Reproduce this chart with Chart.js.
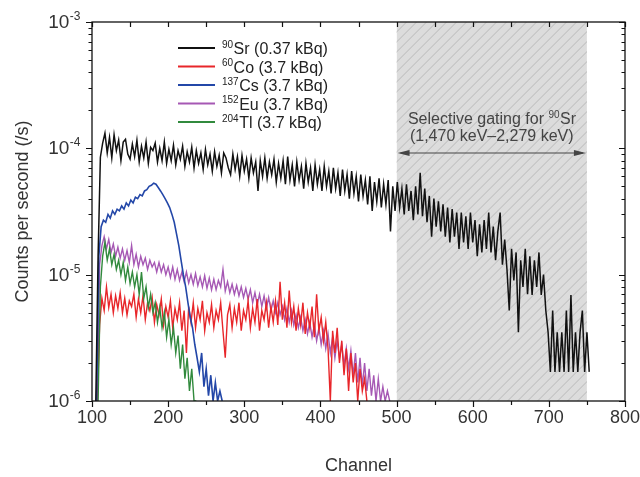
<!DOCTYPE html>
<html lang="en">
<head>
  <meta charset="UTF-8">
  <title>Sr-90 gating spectra</title>
  <script src="https://cdn.jsdelivr.net/npm/chart.js"></script>
  <style>
    body { margin: 0; background: #fff; }
    .wrap { width: 640px; height: 477px; }
  </style>
</head>
<body>
<div class="wrap"><canvas id="chartSpec" width="640" height="477"></canvas></div>
<script>
  // counts per second, in units of 1e-6 /s, one value every 3 channels
  const STEP = 3;
  const srStart = 105;
  const sr90 = [
    1, 14, 85, 110, 132, 92, 122, 84, 128, 96,
    116, 80, 112, 118, 90, 82, 108, 86, 116, 78,
    104, 84, 112, 76, 102, 96, 110, 78, 100, 80,
    112, 76, 98, 80, 106, 74, 96, 82, 104, 72,
    94, 78, 102, 70, 96, 76, 92, 68, 98, 74,
    90, 66, 94, 72, 88, 64, 92, 84, 70, 62,
    90, 68, 86, 60, 88, 66, 82, 58, 84, 64,
    78, 46, 80, 60, 84, 58, 78, 62, 82, 54,
    76, 58, 80, 52, 86, 56, 74, 50, 78, 56,
    72, 48, 76, 54, 70, 46, 74, 52, 68, 46,
    72, 50, 66, 44, 70, 48, 64, 42, 68, 46,
    62, 40, 66, 44, 60, 38, 62, 42, 56, 36,
    60, 32, 54, 38, 58, 34, 52, 36, 56, 22,
    50, 32, 54, 34, 48, 30, 52, 32, 46, 27,
    50, 30, 64, 29, 48, 26, 42, 20, 40, 24,
    38, 22, 36, 20, 34, 18, 33, 20, 31, 16,
    31, 18, 29, 16, 31, 18, 27, 14, 25, 15,
    27, 16, 31, 15, 24, 13, 22, 31, 12, 19,
    11, 5.2, 16, 9, 15, 3.5, 13, 8, 16, 7,
    14, 6.9, 13, 8, 15, 6.9, 10, 5.2, 3.5, 1.7,
    5.2, 1.7, 3.5, 1.7, 3.5, 1.7, 5.2, 1.7, 6.9, 1.7,
    3.5, 1.7, 3.5, 5.2, 1.7, 3.5, 1.7
  ];
  const coStart = 107;
  const co60 = [
    1, 4, 6.5, 5.2, 8, 5.5, 7, 5, 6.8, 5.4,
    7.2, 5, 6.5, 4.8, 6.2, 5.6, 7, 4.6, 6.4, 5,
    6.8, 4.4, 6, 5.2, 6.6, 4.2, 5.8, 4.8, 6.4, 4,
    5.6, 4.6, 6.2, 3.8, 5.4, 4.4, 6, 3.6, 5.2, 2.4,
    5.6, 4.2, 6, 3.8, 5.4, 4.4, 6.2, 3.6, 5, 4.2,
    5.8, 3.8, 5.2, 4.4, 6, 3.6, 2.2, 4.8, 5.8, 3.8,
    5.4, 4.2, 6, 3.6, 5.2, 4.4, 6.2, 3.8, 5.4, 4.2,
    6.4, 3.6, 5.2, 4.4, 6, 3.8, 5.6, 4.2, 6.2, 4,
    8.8, 4.4, 6, 3.8, 7.5, 4.2, 5.6, 3.6, 5.4, 4,
    6, 3.4, 5, 3.8, 5.6, 3.2, 7, 3.6, 4.6, 3,
    4.2, 2.6, 1, 3.6, 2.4, 3.8, 2, 3, 1.6, 2.6,
    1.2, 2.4, 1.4, 2, 1, 1.8, 1.2, 1.5, 1
  ];
  const csStart = 106;
  const cs137 = [
    1, 14, 24, 27, 26, 30, 28, 32, 30, 33,
    32, 35, 33, 37, 35, 39, 37, 41, 40, 43,
    42, 46, 47, 50, 51, 53, 52, 49, 46, 43,
    40, 37, 34, 30, 26, 21, 17, 13, 10, 8,
    6, 4.6, 3.8, 2.8, 2.2, 1.7, 2.4, 1.3, 1.8, 1.1,
    1.6, 1, 1.4, 1, 1.2, 1
  ];
  const euStart = 107;
  const eu152 = [
    1, 12, 17, 20, 16, 19, 15, 17.5, 14, 16.5,
    13.5, 16, 13, 15.5, 12.5, 17, 12, 14.5, 11.5, 14,
    12, 13.5, 11, 13, 11.5, 12.5, 10.5, 12.5, 10.5, 12,
    10, 11.5, 9.5, 11.5, 9.2, 11, 9, 10.5, 8.8, 10.5,
    8.6, 10, 8.4, 10.2, 8.2, 9.6, 8, 9.8, 7.8, 9.4,
    7.6, 9.2, 7.6, 9, 8, 11, 7.4, 8.8, 7.2, 8.4,
    7, 8.2, 6.8, 8, 6.6, 7.8, 6.4, 7.6, 6, 7.2,
    5.8, 7, 5.6, 6.8, 5.4, 6.6, 5.2, 6.2, 5, 6,
    4.8, 5.6, 4.4, 5.4, 4.2, 5.2, 4, 4.8, 3.8, 4.6,
    3.6, 4.4, 3.4, 4.2, 3.2, 4, 3, 3.8, 2.8, 3.6,
    2.6, 3.4, 2.4, 3.2, 2.2, 3, 2.2, 2.8, 1.9, 2.6,
    1.8, 2.5, 1.6, 2.4, 1.4, 2.2, 1.3, 2, 1.2, 1.8,
    1.1, 1.6, 1, 1.5, 1, 1.3, 1, 1.2, 1
  ];
  const tlStart = 108;
  const tl204 = [
    1, 8, 14, 18, 13, 16, 12, 14.5, 11, 13,
    10, 12.5, 9, 11.5, 8.5, 10.5, 8, 10, 7, 10.5,
    6.5, 8, 5.5, 7, 5, 6, 4.2, 5.5, 3.8, 5,
    3.2, 4.4, 2.8, 3.8, 2.4, 3.3, 1.8, 2.8, 1.5, 2.2,
    1.2, 1.8, 1, 1
  ];

  const xTicks = [100, 200, 300, 400, 500, 600, 700, 800];
  const yDecades = [1, 10, 100, 1000];
  const yExponents = ['-6', '-5', '-4', '-3'];
  const gateRange = [500, 750];

  const legendItems = [
    { sup: '90', name: 'Sr (0.37 kBq)', color: '#111111' },
    { sup: '60', name: 'Co (3.7 kBq)', color: '#e8262a' },
    { sup: '137', name: 'Cs (3.7 kBq)', color: '#2347a8' },
    { sup: '152', name: 'Eu (3.7 kBq)', color: '#a658b4' },
    { sup: '204', name: 'Tl (3.7 kBq)', color: '#318a3d' }
  ];

  const FONT = '"Liberation Sans", Arial, sans-serif';
  const TXT = '#333333';

  function toPoints(start, vals) {
    return vals.map((v, i) => ({ x: start + i * STEP, y: v }));
  }

  // text with a superscript before (isotope) or after (exponent) it
  function drawSupText(ctx, x, y, sup, main, size, supFirst) {
    const supSize = Math.round(size * 0.62);
    ctx.textBaseline = 'alphabetic';
    ctx.textAlign = 'left';
    if (supFirst) {
      ctx.font = supSize + 'px ' + FONT;
      ctx.fillText(sup, x, y - size * 0.38);
      const w = ctx.measureText(sup).width;
      ctx.font = size + 'px ' + FONT;
      ctx.fillText(main, x + w + 0.5, y);
    } else {
      ctx.font = size + 'px ' + FONT;
      ctx.fillText(main, x, y);
      const w = ctx.measureText(main).width;
      ctx.font = supSize + 'px ' + FONT;
      ctx.fillText(sup, x + w + 0.5, y - size * 0.42);
    }
  }

  const hatchPlugin = {
    id: 'hatch',
    beforeDatasetsDraw(chart) {
      const { ctx, chartArea: a, scales } = chart;
      const x0 = scales.x.getPixelForValue(gateRange[0]);
      const x1 = scales.x.getPixelForValue(gateRange[1]);
      ctx.save();
      ctx.beginPath();
      ctx.rect(x0, a.top, x1 - x0, a.bottom - a.top);
      ctx.clip();
      ctx.fillStyle = '#dcdcdc';
      ctx.fillRect(x0, a.top, x1 - x0, a.bottom - a.top);
      ctx.strokeStyle = '#b8b8b8';
      ctx.lineWidth = 1;
      const h = a.bottom - a.top;
      for (let s = x0 - h; s < x1 + 10; s += 10) {
        ctx.beginPath();
        ctx.moveTo(s, a.bottom);
        ctx.lineTo(s + h, a.top);
        ctx.stroke();
      }
      ctx.restore();
    }
  };

  const framePlugin = {
    id: 'frame',
    afterDatasetsDraw(chart) {
      const { ctx, chartArea: a, scales } = chart;
      const xs = scales.x, ys = scales.y;
      ctx.save();
      ctx.strokeStyle = '#111';
      ctx.lineWidth = 1.3;
      ctx.strokeRect(a.left, a.top, a.right - a.left, a.bottom - a.top);

      // x ticks: bottom outward, top inward
      ctx.lineWidth = 1.2;
      for (let v = 100; v <= 800; v += 50) {
        const px = Math.round(xs.getPixelForValue(v)) + 0.5;
        const len = v % 100 === 0 ? 6 : 4;
        ctx.beginPath();
        ctx.moveTo(px, a.bottom); ctx.lineTo(px, a.bottom + len);
        ctx.moveTo(px, a.top); ctx.lineTo(px, a.top + 5);
        ctx.stroke();
      }
      // y ticks: left outward, right inward
      for (let d = 0; d < yDecades.length; d++) {
        for (let m = 1; m <= 9; m++) {
          const v = yDecades[d] * m;
          if (v > 1000) break;
          const py = Math.round(ys.getPixelForValue(v)) + 0.5;
          const len = m === 1 ? 6 : 3.5;
          ctx.beginPath();
          ctx.moveTo(a.left, py); ctx.lineTo(a.left - len, py);
          ctx.moveTo(a.right, py); ctx.lineTo(a.right - len, py);
          ctx.stroke();
        }
      }

      // tick labels
      ctx.fillStyle = TXT;
      ctx.font = '18px ' + FONT;
      ctx.textAlign = 'center';
      ctx.textBaseline = 'middle';
      xTicks.forEach(v => ctx.fillText(String(v), xs.getPixelForValue(v), a.bottom + 17));
      yDecades.forEach((v, i) => {
        const py = ys.getPixelForValue(v);
        ctx.font = '12px ' + FONT;
        const sw = ctx.measureText(yExponents[i]).width;
        ctx.font = '19px ' + FONT;
        const mw = ctx.measureText('10').width;
        drawSupText(ctx, a.left - 12 - sw - mw, py + 6, yExponents[i], '10', 19, false);
      });

      // axis titles
      ctx.font = '18px ' + FONT;
      ctx.textAlign = 'center';
      ctx.textBaseline = 'middle';
      ctx.fillText('Channel', (a.left + a.right) / 2, 466);
      ctx.save();
      ctx.translate(23, (a.top + a.bottom) / 2);
      ctx.rotate(-Math.PI / 2);
      ctx.fillText('Counts per second (/s)', 0, 0);
      ctx.restore();

      // legend
      legendItems.forEach((it, i) => {
        const y = 48 + i * 18.5;
        ctx.strokeStyle = it.color;
        ctx.lineWidth = 2;
        ctx.beginPath();
        ctx.moveTo(178, y); ctx.lineTo(215, y);
        ctx.stroke();
        ctx.fillStyle = '#222';
        drawSupText(ctx, 222, y + 6, it.sup, it.name, 16, true);
      });

      // gating annotation
      const g0 = xs.getPixelForValue(gateRange[0]);
      const g1 = xs.getPixelForValue(gateRange[1]);
      ctx.fillStyle = '#444';
      ctx.font = '16px ' + FONT;
      const l1 = 'Selective gating for ';
      const w1 = ctx.measureText(l1).width;
      ctx.font = '10px ' + FONT;
      const w2 = ctx.measureText('90').width;
      ctx.font = '16px ' + FONT;
      const w3 = ctx.measureText('Sr').width;
      let tx = (g0 + g1) / 2 - (w1 + w2 + w3) / 2;
      ctx.textAlign = 'left';
      ctx.textBaseline = 'alphabetic';
      ctx.fillText(l1, tx, 124);
      drawSupText(ctx, tx + w1, 124, '90', 'Sr', 16, true);
      ctx.textAlign = 'center';
      ctx.font = '16px ' + FONT;
      ctx.fillText('(1,470 keV\u20132,279 keV)', (g0 + g1) / 2, 141);

      const ay = 153;
      ctx.strokeStyle = '#444';
      ctx.lineWidth = 1.2;
      ctx.beginPath();
      ctx.moveTo(g0 + 4, ay); ctx.lineTo(g1 - 4, ay);
      ctx.stroke();
      ctx.beginPath();
      ctx.moveTo(g0 + 1, ay); ctx.lineTo(g0 + 13, ay - 3); ctx.lineTo(g0 + 13, ay + 3); ctx.closePath();
      ctx.moveTo(g1 - 1, ay); ctx.lineTo(g1 - 13, ay - 3); ctx.lineTo(g1 - 13, ay + 3); ctx.closePath();
      ctx.fill();
      ctx.restore();
    }
  };

  function lineSet(label, start, vals, color, width) {
    return {
      label: label,
      data: toPoints(start, vals),
      borderColor: color,
      borderWidth: width,
      pointRadius: 0,
      tension: 0,
      fill: false
    };
  }

  new Chart(document.getElementById('chartSpec'), {
    type: 'line',
    data: {
      datasets: [
        lineSet('90Sr (0.37 kBq)', srStart, sr90, legendItems[0].color, 1.5),
        lineSet('137Cs (3.7 kBq)', csStart, cs137, legendItems[2].color, 1.6),
        lineSet('204Tl (3.7 kBq)', tlStart, tl204, legendItems[4].color, 1.4),
        lineSet('60Co (3.7 kBq)', coStart, co60, legendItems[1].color, 1.4),
        lineSet('152Eu (3.7 kBq)', euStart, eu152, legendItems[3].color, 1.4)
      ]
    },
    options: {
      responsive: false,
      animation: false,
      devicePixelRatio: 1,
      layout: { padding: { left: 92, right: 15, top: 22, bottom: 76 } },
      plugins: { legend: { display: false }, tooltip: { enabled: false } },
      scales: {
        x: { type: 'linear', min: 100, max: 800, display: false },
        y: { type: 'logarithmic', min: 1, max: 1000, display: false }
      }
    },
    plugins: [hatchPlugin, framePlugin]
  });
</script>
</body>
</html>
